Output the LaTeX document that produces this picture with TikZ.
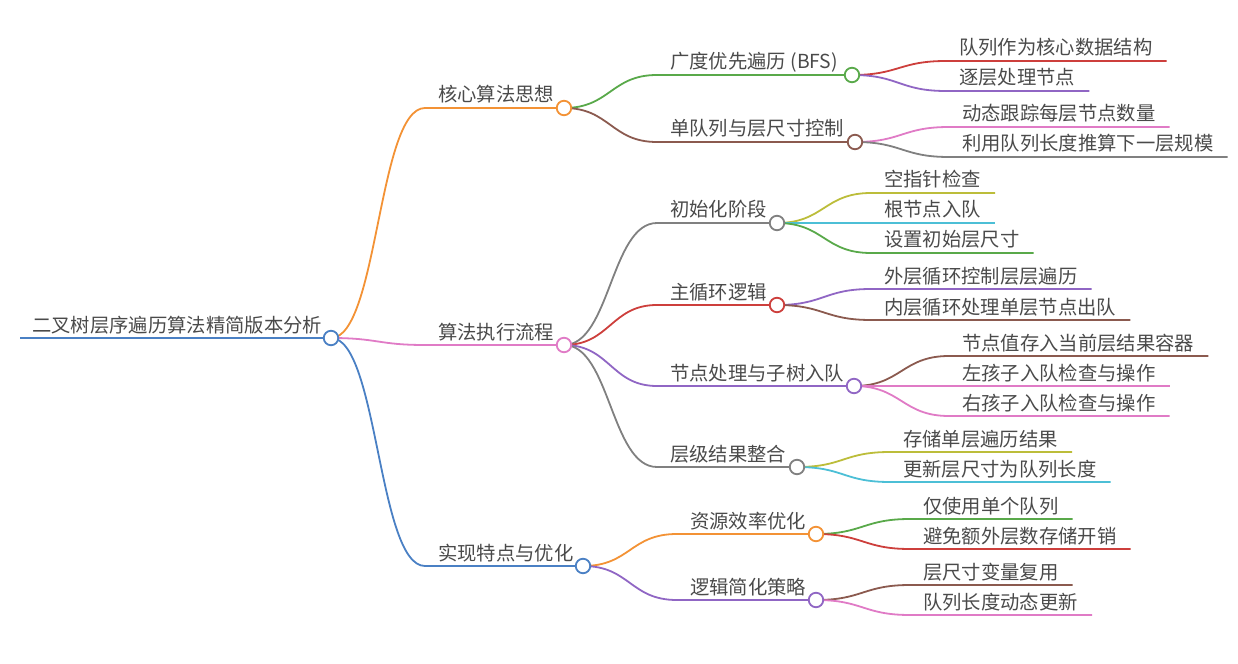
\documentclass[tikz,border=0pt]{standalone}
\usepackage{fontspec}
\setmainfont{Noto Sans CJK SC}
\usetikzlibrary{calc}
\definecolor{cBlue}{HTML}{4A80C4}
\definecolor{cOrange}{HTML}{F39235}
\definecolor{cGreen}{HTML}{59A94A}
\definecolor{cRed}{HTML}{CD3F3C}
\definecolor{cPurple}{HTML}{9066C4}
\definecolor{cBrown}{HTML}{8B5A4F}
\definecolor{cPink}{HTML}{E07BC6}
\definecolor{cGray}{HTML}{808080}
\definecolor{cOlive}{HTML}{BCBD3A}
\definecolor{cCyan}{HTML}{4CBFD6}
\definecolor{txtc}{HTML}{4A4A4A}
\begin{document}
\begin{tikzpicture}[x=1bp,y=-1bp,
  lk/.style={line width=1.8bp},
  dot/.style={circle,draw=#1,fill=white,line width=1.8bp,minimum size=14.5bp,inner sep=0pt},
  txt/.style={anchor=base west,inner sep=0pt,text=txtc,font=\fontsize{19.4}{22}\selectfont}]
\useasboundingbox (0,0) rectangle (1238,664);
% ---------- hub coordinates ----------
\coordinate (R) at (331,338);
\coordinate (R0) at (20,338);
\coordinate (A) at (564,108);  \coordinate (As) at (425,108);
\coordinate (B) at (564,345);  \coordinate (Bs) at (425,345);
\coordinate (C) at (583,566);  \coordinate (Cs) at (425,566);
\coordinate (A1) at (852,75);  \coordinate (A1s) at (657,75);
\coordinate (A2) at (855,142); \coordinate (A2s) at (657,142);
\coordinate (B1) at (777,223); \coordinate (B1s) at (657,223);
\coordinate (B2) at (777,305); \coordinate (B2s) at (657,305);
\coordinate (B3) at (854,386); \coordinate (B3s) at (657,386);
\coordinate (B4) at (797,467); \coordinate (B4s) at (657,467);
\coordinate (C1) at (816,534); \coordinate (C1s) at (677,534);
\coordinate (C2) at (816,600); \coordinate (C2s) at (677,600);
% ---------- texts ----------
\node[txt] (tR) at (32,332) {二叉树层序遍历算法精简版本分析};
\node[txt] (tA) at (438,102) {核心算法思想};
\node[txt] (tB) at (438,339) {算法执行流程};
\node[txt] (tC) at (438,560) {实现特点与优化};
\node[txt] (tA1) at (670,69) {广度优先遍历 (BFS)};
\node[txt] (tA2) at (670,136) {单队列与层尺寸控制};
\node[txt] (tB1) at (670,217) {初始化阶段};
\node[txt] (tB2) at (670,299) {主循环逻辑};
\node[txt] (tB3) at (670,380) {节点处理与子树入队};
\node[txt] (tB4) at (670,461) {层级结果整合};
\node[txt] (tC1) at (690,528) {资源效率优化};
\node[txt] (tC2) at (690,594) {逻辑简化策略};
% leaves
\node[txt] (l1) at (959,55) {队列作为核心数据结构};
\node[txt] (l2) at (959,85) {逐层处理节点};
\node[txt] (l3) at (962,121) {动态跟踪每层节点数量};
\node[txt] (l4) at (962,151) {利用队列长度推算下一层规模};
\node[txt] (l5) at (884,187) {空指针检查};
\node[txt] (l6) at (884,217) {根节点入队};
\node[txt] (l7) at (884,247) {设置初始层尺寸};
\node[txt] (l8) at (884,283) {外层循环控制层层遍历};
\node[txt] (l9) at (884,314) {内层循环处理单层节点出队};
\node[txt] (l10) at (962,350) {节点值存入当前层结果容器};
\node[txt] (l11) at (962,380) {左孩子入队检查与操作};
\node[txt] (l12) at (962,410) {右孩子入队检查与操作};
\node[txt] (l13) at (903,446) {存储单层遍历结果};
\node[txt] (l14) at (903,476) {更新层尺寸为队列长度};
\node[txt] (l15) at (923,513) {仅使用单个队列};
\node[txt] (l16) at (923,543) {避免额外层数存储开销};
\node[txt] (l17) at (923,579) {层尺寸变量复用};
\node[txt] (l18) at (923,609) {队列长度动态更新};
% ---------- connectors ----------
\draw[lk,cBlue] (R0) -- (R);
\draw[lk,cOrange] (R) .. controls +(47,0) and +(-47,0) .. (As) -- (A);
\draw[lk,cPink]   (R) .. controls +(47,0) and +(-47,0) .. (Bs) -- (B);
\draw[lk,cBlue]   (R) .. controls +(47,0) and +(-47,0) .. (Cs) -- (C);
\draw[lk,cGreen] (A) .. controls +(46,0) and +(-46,0) .. (A1s) -- (A1);
\draw[lk,cBrown] (A) .. controls +(46,0) and +(-46,0) .. (A2s) -- (A2);
\draw[lk,cGray]   (B) .. controls +(46,0) and +(-46,0) .. (B1s) -- (B1);
\draw[lk,cRed]    (B) .. controls +(46,0) and +(-46,0) .. (B2s) -- (B2);
\draw[lk,cPurple] (B) .. controls +(46,0) and +(-46,0) .. (B3s) -- (B3);
\draw[lk,cGray]   (B) .. controls +(46,0) and +(-46,0) .. (B4s) -- (B4);
\draw[lk,cOrange] (C) .. controls +(47,0) and +(-47,0) .. (C1s) -- (C1);
\draw[lk,cPurple] (C) .. controls +(47,0) and +(-47,0) .. (C2s) -- (C2);
% leaves
\draw[lk,cRed]    (A1) .. controls +(47,0) and +(-47,0) .. ($(l1.base west)+(-13,6)$) -- ($(l1.base east)+(14,6)$);
\draw[lk,cPurple] (A1) .. controls +(47,0) and +(-47,0) .. ($(l2.base west)+(-13,6)$) -- ($(l2.base east)+(14,6)$);
\draw[lk,cPink]   (A2) .. controls +(47,0) and +(-47,0) .. ($(l3.base west)+(-13,6)$) -- ($(l3.base east)+(14,6)$);
\draw[lk,cGray]   (A2) .. controls +(47,0) and +(-47,0) .. ($(l4.base west)+(-13,6)$) -- ($(l4.base east)+(14,6)$);
\draw[lk,cOlive]  (B1) .. controls +(47,0) and +(-47,0) .. ($(l5.base west)+(-13,6)$) -- ($(l5.base east)+(14,6)$);
\draw[lk,cCyan]   (B1) .. controls +(47,0) and +(-47,0) .. ($(l6.base west)+(-13,6)$) -- ($(l6.base east)+(14,6)$);
\draw[lk,cGreen]  (B1) .. controls +(47,0) and +(-47,0) .. ($(l7.base west)+(-13,6)$) -- ($(l7.base east)+(14,6)$);
\draw[lk,cPurple] (B2) .. controls +(47,0) and +(-47,0) .. ($(l8.base west)+(-13,6)$) -- ($(l8.base east)+(14,6)$);
\draw[lk,cBrown]  (B2) .. controls +(47,0) and +(-47,0) .. ($(l9.base west)+(-13,6)$) -- ($(l9.base east)+(14,6)$);
\draw[lk,cBrown]  (B3) .. controls +(47,0) and +(-47,0) .. ($(l10.base west)+(-13,6)$) -- ($(l10.base east)+(14,6)$);
\draw[lk,cPink]   (B3) .. controls +(47,0) and +(-47,0) .. ($(l11.base west)+(-13,6)$) -- ($(l11.base east)+(14,6)$);
\draw[lk,cPink]   (B3) .. controls +(47,0) and +(-47,0) .. ($(l12.base west)+(-13,6)$) -- ($(l12.base east)+(14,6)$);
\draw[lk,cOlive]  (B4) .. controls +(47,0) and +(-47,0) .. ($(l13.base west)+(-13,6)$) -- ($(l13.base east)+(14,6)$);
\draw[lk,cCyan]   (B4) .. controls +(47,0) and +(-47,0) .. ($(l14.base west)+(-13,6)$) -- ($(l14.base east)+(14,6)$);
\draw[lk,cGreen]  (C1) .. controls +(47,0) and +(-47,0) .. ($(l15.base west)+(-13,6)$) -- ($(l15.base east)+(14,6)$);
\draw[lk,cRed]    (C1) .. controls +(47,0) and +(-47,0) .. ($(l16.base west)+(-13,6)$) -- ($(l16.base east)+(14,6)$);
\draw[lk,cBrown]  (C2) .. controls +(47,0) and +(-47,0) .. ($(l17.base west)+(-13,6)$) -- ($(l17.base east)+(14,6)$);
\draw[lk,cPink]   (C2) .. controls +(47,0) and +(-47,0) .. ($(l18.base west)+(-13,6)$) -- ($(l18.base east)+(14,6)$);
% ---------- circles ----------
\node[dot=cBlue] (dR) at (R) {};
\node[dot=cOrange] (dA) at (A) {};
\node[dot=cPink] (dB) at (B) {};
\node[dot=cBlue] (dC) at (C) {};
\node[dot=cGreen] (dA1) at (A1) {};
\node[dot=cBrown] (dA2) at (A2) {};
\node[dot=cGray] (dB1) at (B1) {};
\node[dot=cRed] (dB2) at (B2) {};
\node[dot=cPurple] (dB3) at (B3) {};
\node[dot=cGray] (dB4) at (B4) {};
\node[dot=cOrange] (dC1) at (C1) {};
\node[dot=cPurple] (dC2) at (C2) {};
\end{tikzpicture}
\end{document}
